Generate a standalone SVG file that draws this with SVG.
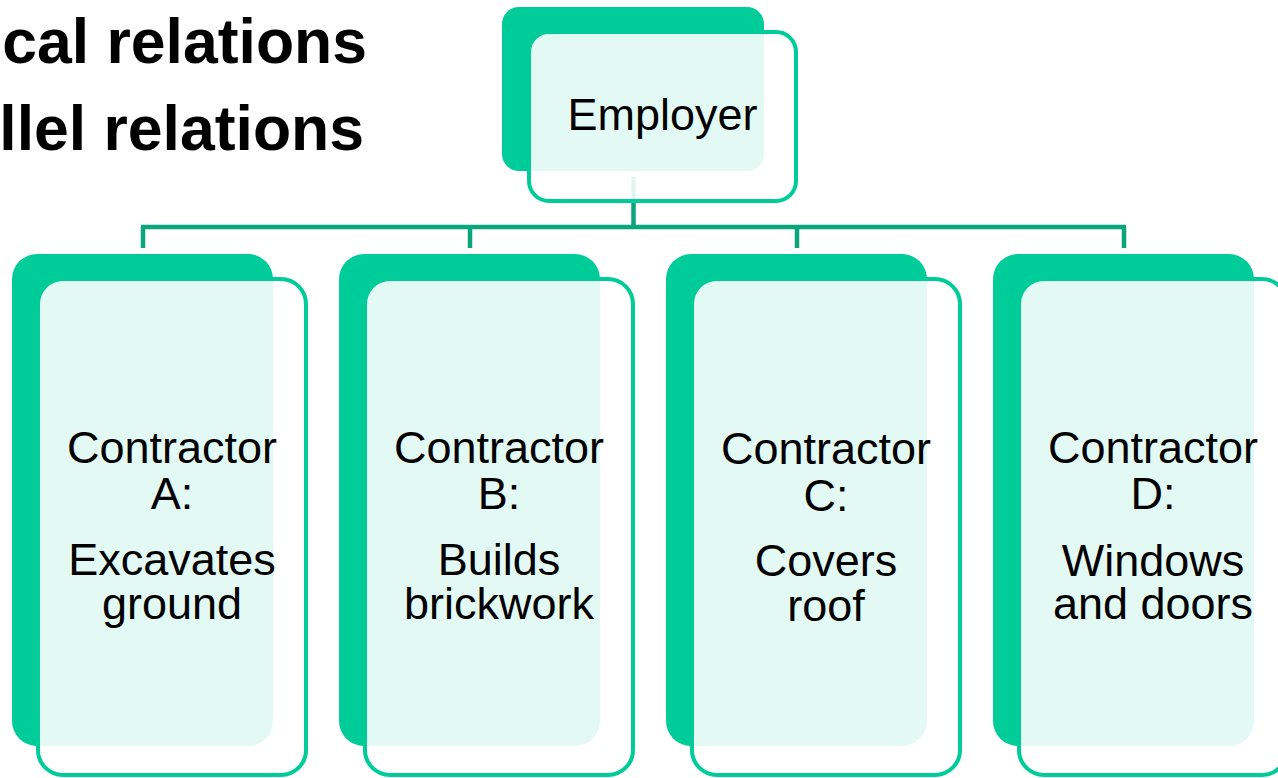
<svg xmlns="http://www.w3.org/2000/svg" width="1278" height="778" viewBox="0 0 1278 778">
<style>
.back{fill:#00CC99;}
.front{fill:#FFFFFF;fill-opacity:0.89;stroke:#00CC99;stroke-width:4;}
.conn{stroke:#0BA57C;stroke-width:4.5;fill:none;}
.lbl{font-family:"Liberation Sans",Arial,sans-serif;font-size:45px;fill:#000;text-anchor:middle;}
.title{font-family:"Liberation Sans",Arial,sans-serif;font-size:62.5px;font-weight:bold;fill:#000;text-anchor:end;}
</style>
<rect width="1278" height="778" fill="#FFFFFF"/>
<g id="title">
<text class="title" x="367" y="63">cal relations</text>
<text class="title" x="364" y="150">llel relations</text>
</g>
<g id="connectors">
<line class="conn" x1="633.5" y1="177" x2="633.5" y2="227"/>
<line class="conn" x1="141" y1="227" x2="1126" y2="227"/>
<line class="conn" x1="143" y1="227" x2="143" y2="248"/>
<line class="conn" x1="470" y1="227" x2="470" y2="248"/>
<line class="conn" x1="797" y1="227" x2="797" y2="248"/>
<line class="conn" x1="1124" y1="227" x2="1124" y2="248"/>
</g>
<g id="employer">
<rect class="back" x="502" y="7" width="262" height="164" rx="17"/>
<rect class="front" x="529" y="32" width="267" height="169" rx="20"/>
<text class="lbl" x="662.5" y="130">Employer</text>
</g>
<g id="contractorA">
<rect class="back" x="12" y="254" width="261" height="492" rx="25"/>
<rect class="front" x="38" y="279" width="268" height="496" rx="25"/>
<text class="lbl"><tspan x="172" y="463">Contractor</tspan><tspan x="172" y="509">A:</tspan><tspan x="172" y="575">Excavates</tspan><tspan x="172" y="619">ground</tspan></text>
</g>
<g id="contractorB">
<rect class="back" x="339" y="254" width="261" height="492" rx="25"/>
<rect class="front" x="365" y="279" width="268" height="496" rx="25"/>
<text class="lbl"><tspan x="499" y="463">Contractor</tspan><tspan x="499" y="509">B:</tspan><tspan x="499" y="575">Builds</tspan><tspan x="499" y="619">brickwork</tspan></text>
</g>
<g id="contractorC">
<rect class="back" x="666" y="254" width="261" height="492" rx="25"/>
<rect class="front" x="692" y="279" width="268" height="496" rx="25"/>
<text class="lbl"><tspan x="826" y="464">Contractor</tspan><tspan x="826" y="511">C:</tspan><tspan x="826" y="576">Covers</tspan><tspan x="826" y="621">roof</tspan></text>
</g>
<g id="contractorD">
<rect class="back" x="993" y="254" width="261" height="492" rx="25"/>
<rect class="front" x="1019" y="279" width="268" height="496" rx="25"/>
<text class="lbl"><tspan x="1153" y="463">Contractor</tspan><tspan x="1153" y="509">D:</tspan><tspan x="1153" y="576">Windows</tspan><tspan x="1153" y="619">and doors</tspan></text>
</g>
</svg>
